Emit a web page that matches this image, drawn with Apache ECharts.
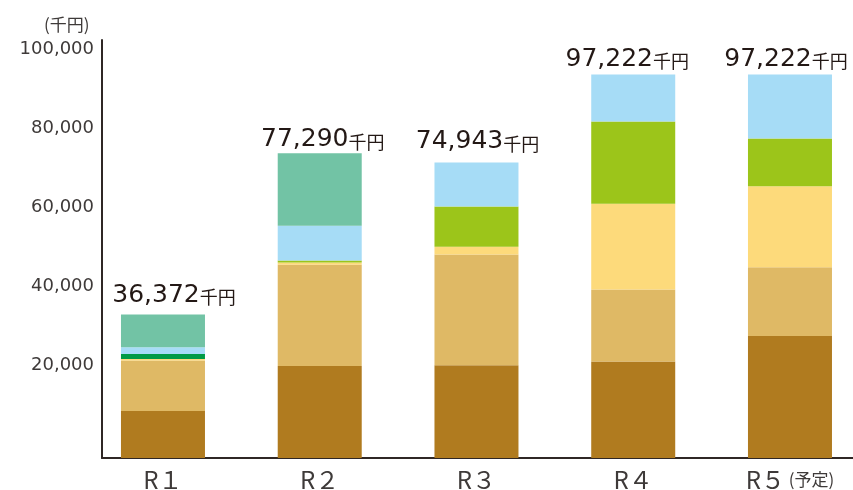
<!DOCTYPE html>
<html>
<head>
<meta charset="utf-8">
<script src="https://cdn.jsdelivr.net/npm/echarts@6/dist/echarts.min.js"></script>
<style>html,body{margin:0;padding:0;background:#fff;}#c{width:853px;height:490px;}</style>
</head>
<body>
<div id="c"></div>
<script>
const categories = ['R１', 'R２', 'R３', 'R４', 'R５'];
const totals = [36372, 77290, 74943, 97222, 97222];
const brownVals = [11930, 23350, 23530, 24440, 30960];
const tanVals = [12770, 25630, 28070, 18270, 17410];
const yellowVals = [430, 580, 1950, 21750, 20560];
const greenVals = [1270, 0, 0, 0, 0];
const limeVals = [0, 510, 10230, 20890, 12110];
const blueVals = [1700, 8810, 11170, 11870, 16180];
const tealVals = [8270, 18400, 0, 0, 0];
const yTicks = [20000, 40000, 60000, 80000, 100000];

// label styling nudges (px) for the total labels, as in the original layout
const totalLabelNudge = [[11, 0], [3, 6], [1, -1], [-6, 4], [-4, 4]];

const seriesDefs = [
  ['系列1', brownVals, '#B07B1F'],
  ['系列2', tanVals, '#DFB965'],
  ['系列3', yellowVals, '#FDDA7B'],
  ['系列4', greenVals, '#009B45'],
  ['系列5', limeVals, '#9CC51A'],
  ['系列6', blueVals, '#A6DCF6'],
  ['系列7', tealVals, '#72C3A5']
];

const fmt = v => v.toLocaleString('en-US');

const series = seriesDefs.map((d, idx) => {
  const isTop = idx === seriesDefs.length - 1;
  const s = {
    name: d[0], type: 'bar', stack: 'total', xAxisIndex: 0, yAxisIndex: 0,
    data: isTop ? d[1].map((v, i) => ({ value: v, label: { offset: totalLabelNudge[i] } })) : d[1],
    barWidth: 84,
    itemStyle: { color: d[2] },
    emphasis: { disabled: true },
    animation: false
  };
  if (isTop) {
    s.label = {
      show: true, position: 'top', distance: 7,
      formatter: p => '{n|' + fmt(totals[p.dataIndex]) + '}{u|千円}',
      rich: {
        n: { fontFamily: 'DejaVu Sans', fontSize: 25, color: '#231815' },
        u: { fontFamily: 'Noto Sans CJK JP', fontSize: 18, color: '#231815', padding: [4, 0, 0, 0] }
      }
    };
  }
  return s;
});

const chart = echarts.init(document.getElementById('c'));
chart.setOption({
  animation: false,
  title: {
    text: '(千円)', left: 39, top: 11,
    textStyle: { fontFamily: 'Noto Sans CJK JP', fontSize: 17, fontWeight: 'normal', color: '#3e3a39' }
  },
  grid: [
    { left: 84.6, width: 783.75, top: 40, height: 418, outerBoundsMode: 'none', containLabel: false },
    { left: 102, right: 0, top: 40, height: 418, outerBoundsMode: 'none', containLabel: false }
  ],
  xAxis: [
    {
      type: 'category', gridIndex: 0, data: categories,
      axisLine: { show: false }, axisTick: { show: false },
      axisLabel: {
        interval: 0, margin: 10, fontFamily: 'Noto Sans CJK JP', fontSize: 24, color: '#3e3a39',
        formatter: (v, i) => i === categories.length - 1 ? v + '{s| (予定)}' : v,
        rich: { s: { fontFamily: 'Noto Sans CJK JP', fontSize: 17, color: '#3e3a39' } }
      }
    },
    {
      type: 'category', gridIndex: 1, data: categories,
      axisLine: { show: true, lineStyle: { color: '#2f2725', width: 2 } },
      axisTick: { show: false }, axisLabel: { show: false }
    }
  ],
  yAxis: [
    { type: 'value', gridIndex: 0, min: 0, max: 106000, show: false, splitLine: { show: false } },
    {
      type: 'value', gridIndex: 1, min: 0, max: 106000, interval: 20000,
      axisLine: { show: true, lineStyle: { color: '#2f2725', width: 2 } },
      axisTick: { show: false }, splitLine: { show: false },
      axisLabel: {
        margin: 8, fontFamily: 'DejaVu Sans', fontSize: 18, color: '#3e3a39',
        verticalAlign: 'bottom', lineHeight: 28,
        formatter: v => yTicks.indexOf(v) >= 0 ? fmt(v) : ''
      }
    }
  ],
  series: series
});
</script>
</body>
</html>
